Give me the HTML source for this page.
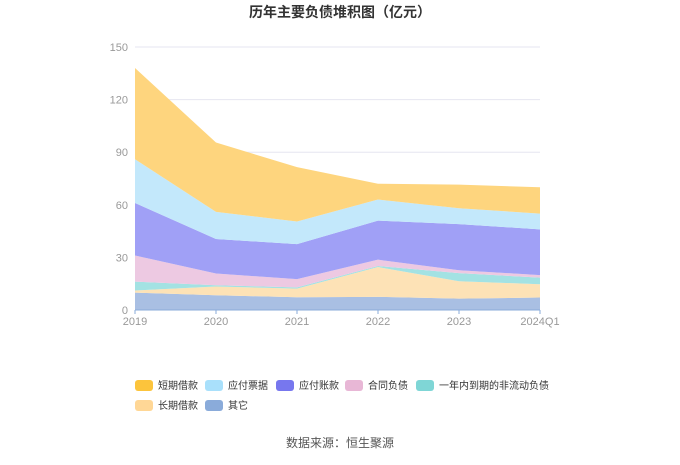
<!DOCTYPE html>
<html><head><meta charset="utf-8"><style>
body{margin:0;background:#fff;font-family:"Liberation Sans","Noto Sans CJK SC",sans-serif}
</style></head><body>
<svg width="680" height="460" viewBox="0 0 680 460" xmlns="http://www.w3.org/2000/svg" style="font-family:'Liberation Sans','Noto Sans CJK SC',sans-serif">
<text x="340" y="17" text-anchor="middle" font-size="14" font-weight="bold" fill="#333">历年主要负债堆积图（亿元）</text>
<g id="grid"></g><g id="areas"></g><g id="axes"></g><g id="legend"></g>
<text x="340" y="447" text-anchor="middle" font-size="12" fill="#555">数据来源：恒生聚源</text>
</svg>
<script>
const categories=["2019","2020","2021","2022","2023","2024Q1"];
const yTicks=[0,30,60,90,120,150];
const seriesNames=["其它","长期借款","一年内到期的非流动负债","合同负债","应付账款","应付票据","短期借款"];
const other=[9.9,8.4,7.3,7.5,6.5,7.1];
const longLoan=[1.2,5.0,4.9,17.0,9.9,7.6];
const currentNonCur=[5.1,0.7,0.7,0.6,4.6,3.8];
const contractLiab=[14.9,6.7,4.7,3.6,1.7,1.4];
const accountsPay=[29.9,19.7,20.0,22.3,26.3,26.1];
const notesPay=[25.0,15.5,12.9,12.0,9.0,9.0];
const shortLoan=[52.0,39.5,31.0,9.0,13.5,15.0];
const NS="http://www.w3.org/2000/svg";
const X0=135,X1=540,Y0=310,Y1=47,YMAX=150;
const xPos=i=>X0+(X1-X0)*i/(categories.length-1);
const yPos=v=>Y0-(Y0-Y1)*v/YMAX;
function mk(t,a,p){const e=document.createElementNS(NS,t);for(const k in a)e.setAttribute(k,a[k]);p.appendChild(e);return e;}
const grid=document.getElementById('grid'),axes=document.getElementById('axes'),areas=document.getElementById('areas'),legend=document.getElementById('legend');
yTicks.forEach(v=>{
 if(v>0){const l=mk('line',{x1:X0,x2:X1,y1:yPos(v),y2:yPos(v),stroke:'#e6e6f0'},grid);
 
 }
 const t=mk('text',{x:128,y:yPos(v)+4,'text-anchor':'end','font-size':11,fill:'#999'},axes);t.textContent=v;
 
 
});
const data=[other,longLoan,currentNonCur,contractLiab,accountsPay,notesPay,shortLoan];
const fills=["#a9bfe3","#fde2b6","#a3e2e3","#edc9e2","#a0a0f6","#c3e8fb","#fed57e"];
const legendColors=["#8aabda","#ffd796","#7fd6d6","#e8b7d6","#7777ee","#a9e0fb","#fcc43c"];
const areaNames=["area-other","area-long-term-loan","area-current-noncurrent","area-contract-liabilities","area-accounts-payable","area-notes-payable","area-short-term-loan"];
let base=categories.map(()=>0);
data.forEach((s,k)=>{
 const top=base.map((b,i)=>b+s[i]);
 let d=top.map((v,i)=>(i?'L':'M')+xPos(i)+','+yPos(v)).join(' ');
 for(let i=categories.length-1;i>=0;i--)d+=' L'+xPos(i)+','+yPos(base[i]);
 const p=mk('path',{d:d+'Z',fill:fills[k]},areas);
 
 
 base=top;
});
const ax=mk('line',{x1:X0,x2:X1,y1:Y0,y2:Y0,stroke:'#8aabda'},axes);


categories.forEach((c,i)=>{
 mk('line',{x1:xPos(i),x2:xPos(i),y1:Y0,y2:Y0+4,stroke:'#8aabda'},axes);
 const t=mk('text',{x:xPos(i),y:325,'text-anchor':'middle','font-size':11,fill:'#999'},axes);t.textContent=c;
 
 
});
const legOrder=[6,5,4,3,2,1,0];
const legPos=[[135,385],[205,385],[276,385],[345,385],[416,385],[135,405],[205,405]];
legOrder.forEach((k,j)=>{
 const g=mk('g',{},legend);
 
 
 const [lx,ly]=legPos[j];
 mk('rect',{x:lx,y:ly-5,width:18,height:11,rx:3,fill:legendColors[k]},g);
 const t=mk('text',{x:lx+23,y:ly+4,'font-size':10,fill:'#333'},g);t.textContent=seriesNames[k];
});
</script>
</body></html>
